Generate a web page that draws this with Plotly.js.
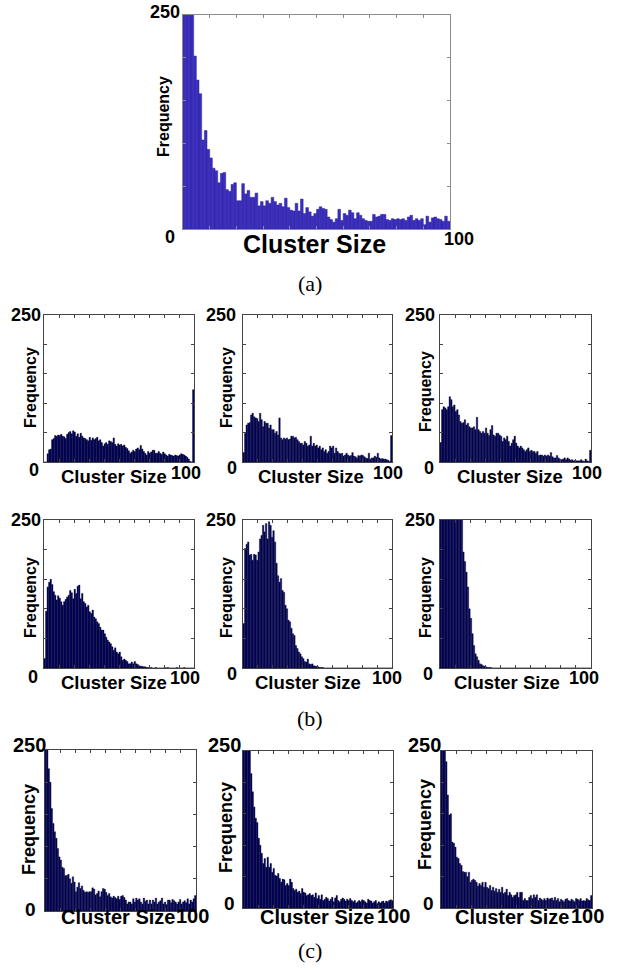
<!DOCTYPE html>
<html>
<head>
<meta charset="utf-8">
<script src="https://cdn.plot.ly/plotly-3.0.1.min.js"></script>
<style>html,body{margin:0;padding:0;background:#fff;}#chart{width:619px;height:970px;}</style>
</head>
<body>
<div id="chart"></div>
<script>
// Cluster sizes 1..100 (one histogram bin per size)
const clusterSize = Array.from({length: 100}, (_, i) => i + 1);

// (a) reference histogram
const freqA = [420,330,290,260,202,174,158,104,115,93,83,71,68,54,65,66,46,44,52,54,
  33,33,53,41,45,37,37,42,27,32,27,33,30,37,32,28,30,26,36,25,
  22,21,30,21,35,18,25,20,15,18,23,26,24,23,14,11,8,12,23,10,
  18,16,22,19,12,19,16,12,10,9,9,17,14,15,17,17,11,10,12,11,
  12,11,12,10,14,16,10,12,10,12,5,15,8,13,14,12,11,9,15,9];

// (b) six histograms
const freqB1 = [0,0,14,21,22,38,40,45,44,46,45,47,44,43,40,47,50,52,48,53,
  51,44,48,42,49,44,41,40,38,36,42,37,41,38,40,42,36,38,33,27,
  31,33,30,36,35,33,41,30,27,31,29,30,27,29,25,23,19,15,17,20,
  18,22,24,21,28,22,18,15,12,18,15,17,20,20,15,15,18,15,13,17,
  14,12,10,13,12,11,10,12,11,10,12,14,13,12,10,8,5,1,0,123];
const freqB2 = [16,49,63,66,67,80,83,77,75,74,69,83,72,60,69,66,66,58,63,55,
  55,49,52,46,75,41,38,41,39,41,38,39,44,44,41,42,38,35,32,32,
  29,35,32,27,29,44,27,32,27,29,24,27,21,24,18,21,15,18,27,24,
  27,15,24,18,15,14,15,10,12,15,12,10,11,16,10,9,7,11,10,12,
  11,9,7,6,15,5,7,7,10,8,15,7,5,6,5,5,4,3,1,45];
const freqB3 = [33,89,94,92,89,94,111,106,94,97,86,89,80,69,66,67,72,63,66,60,
  58,58,60,55,76,55,52,49,52,49,58,49,45,55,62,46,44,49,49,46,
  44,35,41,38,44,35,27,32,38,44,32,27,24,27,24,21,18,21,24,18,
  20,18,18,15,18,11,12,12,10,12,10,12,10,16,9,7,7,11,7,5,
  4,5,7,4,7,5,3,4,2,3,2,2,2,4,2,1,5,2,1,20];
const freqB4 = [16,96,137,145,150,141,129,123,115,122,118,112,106,112,116,120,123,131,127,117,
  133,126,138,140,117,126,112,109,103,106,95,92,98,86,83,78,75,69,64,64,
  58,52,47,44,41,36,30,34,27,24,27,19,13,15,13,11,7,7,10,7,
  11,7,6,4,3,3,2,2,1,1,0,1,0,0,1,0,0,0,0,0,
  1,0,1,0,0,0,0,0,1,0,0,0,0,1,0,0,0,0,0,0];
const freqB5 = [75,202,209,213,191,192,182,192,191,182,196,218,224,241,230,244,218,247,241,221,
  232,213,177,156,145,151,131,128,106,100,81,78,67,58,55,38,33,27,24,19,
  16,11,10,15,7,6,7,4,3,3,2,1,1,1,0,0,0,0,0,0,
  0,0,0,0,0,0,0,0,0,0,0,0,0,0,0,0,0,0,0,0,
  0,0,0,0,0,0,0,0,0,0,0,0,0,0,0,0,0,0,0,0];
const freqB6 = [520,610,575,560,505,470,455,410,395,350,335,318,290,276,258,196,180,162,137,100,
  84,58,38,24,19,13,7,6,4,3,2,1,1,1,0,0,0,0,0,0,
  0,0,0,0,0,0,0,0,0,0,0,0,0,0,0,0,0,0,0,0,
  0,0,0,0,0,0,0,0,0,0,0,0,0,0,0,0,0,0,0,0,
  0,0,0,0,0,0,0,0,0,0,0,0,0,0,0,0,0,0,0,0];

// (c) three histograms
const freqC1 = [330,270,221,200,159,136,123,113,97,84,79,68,66,55,55,57,50,43,53,45,
  30,37,44,35,39,32,29,30,29,30,30,36,34,25,27,31,22,30,35,34,
  29,24,27,22,20,23,21,19,23,18,23,24,21,17,11,14,14,11,19,14,
  20,17,19,14,11,20,15,17,11,17,11,17,14,20,11,14,16,20,11,14,
  10,17,17,13,18,16,14,11,14,18,11,14,16,13,19,11,17,14,19,24];
const freqC2 = [480,400,330,290,262,214,185,161,143,136,111,100,87,71,79,65,81,65,71,57,
  63,52,51,55,47,41,46,45,36,39,36,46,41,31,28,30,25,27,23,31,
  25,24,20,21,23,20,21,17,24,15,20,14,21,12,14,17,15,11,14,17,
  10,16,20,12,10,14,16,14,11,14,12,15,12,10,12,8,10,12,10,13,
  12,10,8,14,12,11,8,10,12,7,10,8,10,11,8,11,10,12,13,12];
const freqC3 = [450,380,300,233,180,148,150,105,103,97,81,79,71,68,58,57,57,50,57,41,
  44,46,44,41,35,39,36,41,33,41,33,31,36,28,33,27,31,25,30,25,
  33,23,25,30,20,25,21,17,20,21,25,17,25,25,12,15,12,12,17,20,
  15,21,17,21,12,16,14,12,15,12,16,14,15,16,12,17,12,15,10,14,
  12,10,14,15,12,11,14,12,10,15,14,12,15,11,12,11,15,13,12,20];

const axisLabels = {y: 'Frequency', x: 'Cluster Size', yTop: '250', yBottom: '0', xRight: '100'};
const panelLetters = ['(a)', '(b)', '(c)'];

// ---- layout (pixel boxes) ----
const W = 619, H = 970;
const FONT = 'Liberation Sans, Arial, Helvetica, sans-serif';
const panels = [
  {v: freqA,  box: [183,450,15,229], fill:'#3b2cc2', edge:'#2b2590', lw:0.5, axc:'#8c8c8c',
   l250:[182,12,18], l0:[170,237,18], l100:[459,239,18], cs:[314,244,25], fq:[163,117,16]},
  {v: freqB1, box: [44,194,315,462], fill:'#04046a', edge:'#000010', lw:0.35, axc:'#444',
   l250:[43,315,18], l0:[34,470,18], l100:[186,473,18], cs:[114,476,18.5], fq:[30,388,16]},
  {v: freqB2, box: [243,392,315,462], fill:'#04046a', edge:'#000010', lw:0.35, axc:'#444',
   l250:[238,315,18], l0:[232,468,18], l100:[388,473,18], cs:[311,476,18.5], fq:[226,388,16]},
  {v: freqB3, box: [440,591,315,462], fill:'#04046a', edge:'#000010', lw:0.35, axc:'#444',
   l250:[437,315,18], l0:[429,468,18], l100:[587,473,18], cs:[510,476,18.5], fq:[425,392,16]},
  {v: freqB4, box: [44,194,520,668], fill:'#04046a', edge:'#000010', lw:0.35, axc:'#444',
   l250:[43,520,18], l0:[33,677,18], l100:[185,678,18], cs:[114,682,18.5], fq:[30,598,16]},
  {v: freqB5, box: [243,392,520,668], fill:'#04046a', edge:'#000010', lw:0.35, axc:'#444',
   l250:[238,520,18], l0:[232,674,18], l100:[387,678,18], cs:[308,682,18.5], fq:[226,598,16]},
  {v: freqB6, box: [440,591,520,668], fill:'#04046a', edge:'#000010', lw:0.35, axc:'#444',
   l250:[437,520,18], l0:[428,674,18], l100:[584,678,18], cs:[507,682,18.5], fq:[425,598,16]},
  {v: freqC1, box: [45,196,750,911], fill:'#04046a', edge:'#000010', lw:0.35, axc:'#444',
   l250:[48,745,20], l0:[30,909,19], l100:[192,916,20], cs:[118,917,20], fq:[29,830,18]},
  {v: freqC2, box: [243,393,751,908], fill:'#04046a', edge:'#000010', lw:0.35, axc:'#444',
   l250:[243,745,20], l0:[230,903,19], l100:[393,916,20], cs:[317,917,20], fq:[226,828,18]},
  {v: freqC3, box: [441,592,751,908], fill:'#04046a', edge:'#000010', lw:0.35, axc:'#444',
   l250:[443,745,20], l0:[428,903,19], l100:[587,916,20], cs:[512,917,20], fq:[425,825,18]}
];
const letterPos = [[310,283],[310,718],[310,950]];

const px = x => x / W, py = y => 1 - y / H;
const data = [], annotations = [];
const layout = {
  width: W, height: H, margin: {l:0, r:0, t:0, b:0},
  paper_bgcolor:'#fff', plot_bgcolor:'#fff', showlegend:false, bargap:0,
  font: {family: FONT}
};

function ann(text, x, y, size, opts) {
  annotations.push(Object.assign({
    text: '<b>' + text + '</b>', xref:'paper', yref:'paper', x: px(x), y: py(y),
    xanchor:'center', yanchor:'middle', showarrow:false,
    font: {family: FONT, size: size, color:'#000'}
  }, opts || {}));
}

panels.forEach((p, i) => {
  const n = i + 1;
  const xa = 'xaxis' + (n === 1 ? '' : n), ya = 'yaxis' + (n === 1 ? '' : n);
  data.push({
    type:'bar', x: clusterSize.map(s => s - 0.5), y: p.v, width: 1,
    xaxis: 'x' + (n === 1 ? '' : n), yaxis: 'y' + (n === 1 ? '' : n),
    marker: {color: p.fill, line: {color: p.edge, width: p.lw}},
    hoverinfo:'skip'
  });
  const common = {showgrid:false, zeroline:false, showline:true, linecolor:p.axc, linewidth:1,
    mirror:'ticks', ticks:'inside', ticklen:3, tickcolor:p.axc, showticklabels:false, fixedrange:true};
  layout[xa] = Object.assign({}, common, {domain:[px(p.box[0]), px(p.box[1])], range:[0,100],
    tickmode:'linear', tick0:0, dtick:10, anchor: 'y' + (n === 1 ? '' : n)});
  layout[ya] = Object.assign({}, common, {domain:[py(p.box[3]), py(p.box[2])], range:[0,250],
    tickmode:'linear', tick0:0, dtick:50, anchor: 'x' + (n === 1 ? '' : n)});
  ann(axisLabels.yTop, p.l250[0], p.l250[1], p.l250[2], {xanchor:'right'});
  ann(axisLabels.yBottom, p.l0[0], p.l0[1], p.l0[2]);
  ann(axisLabels.xRight, p.l100[0], p.l100[1], p.l100[2]);
  ann(axisLabels.x, p.cs[0], p.cs[1], p.cs[2]);
  ann(axisLabels.y, p.fq[0], p.fq[1], p.fq[2], {textangle:-90});
});

panelLetters.forEach((t, i) => {
  annotations.push({text: t, xref:'paper', yref:'paper', x: px(letterPos[i][0]), y: py(letterPos[i][1]),
    xanchor:'center', yanchor:'middle', showarrow:false,
    font:{family:'Liberation Serif, Times New Roman, serif', size:22, color:'#000'}});
});

layout.annotations = annotations;
Plotly.newPlot('chart', data, layout, {staticPlot:true, displayModeBar:false});
</script>
</body>
</html>
